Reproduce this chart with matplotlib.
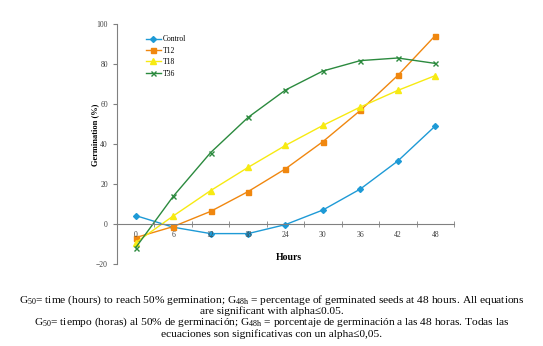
import matplotlib
matplotlib.use("Agg")
import matplotlib.pyplot as plt

hours = [0, 6, 12, 18, 24, 30, 36, 42, 48]
control = [4.2, -1.6, -4.8, -4.8, -0.3, 7.0, 17.5, 31.5, 49.0]
t12 = [-6.8, -1.3, 6.3, 16.2, 27.6, 41.2, 56.8, 74.3, 94.2]
t18 = [-9.3, 4.0, 16.7, 28.3, 39.3, 49.3, 58.5, 66.8, 74.2]
t36 = [-11.8, 13.8, 35.7, 53.3, 67.0, 76.5, 81.7, 83.0, 80.3]

series = [
    ("Control", control, "#1e9ad6", "D", 3.0),
    ("T12", t12, "#f0870f", "s", 3.6),
    ("T18", t18, "#f7ea12", "^", 4.0),
    ("T36", t36, "#2b8a3e", "x", 3.6),
]

fig = plt.figure(figsize=(5.43, 3.46), dpi=100)
ax = fig.add_axes([0.2155, 0.237, 0.6205, 0.6936])

for name, vals, col, mk, ms in series:
    ax.plot(hours, vals, color=col, marker=mk, markersize=ms, linewidth=1.0,
            markeredgewidth=1.0, label=name, zorder=2)

ax.set_xlim(-3, 51)
ax.set_ylim(-20, 100)
ax.set_yticks(range(-20, 101, 20))
ax.set_xticks(hours)
ax.set_xticks(range(-3, 52, 6), minor=True)
ax.set_axisbelow(False)

ax.spines["top"].set_visible(False)
ax.spines["right"].set_visible(False)
ax.spines["left"].set_color("#808080")
ax.spines["bottom"].set_color("#808080")
ax.spines["bottom"].set_position(("data", 0))

ax.tick_params(axis="y", direction="out", length=3, color="#808080",
               labelsize=5.5, labelcolor="#404040")
ax.tick_params(axis="x", which="major", length=0, labelsize=5.5,
               labelcolor="#404040", pad=5)
ax.tick_params(axis="x", which="minor", direction="inout", length=5,
               color="#808080")
for lab in ax.get_xticklabels() + ax.get_yticklabels():
    lab.set_family("Liberation Serif")

ax.set_ylabel("Germination (%)", fontsize=6, fontweight="bold",
              family="Liberation Serif")
ax.yaxis.set_label_coords(-0.052, 0.54)
ax.set_xlabel("Hours", fontsize=7, fontweight="bold", family="Liberation Serif")
ax.xaxis.set_label_coords(0.51, 0.045)

leg = ax.legend(loc="upper left", bbox_to_anchor=(0.065, 0.982), frameon=False,
                prop={"family": "Liberation Serif", "size": 5.5},
                handlelength=2.0, handletextpad=0.2, labelspacing=0.45)

cap1 = ("G$\\mathregular{_{50}}$= time (hours) to reach 50% germination; "
        "G$\\mathregular{_{48h}}$ = percentage of germinated seeds at 48 hours. "
        "All equations\nare significant with alpha\u22640.05.")
cap2 = ("G$\\mathregular{_{50}}$= tiempo (horas) al 50% de germinaci\u00f3n; "
        "G$\\mathregular{_{48h}}$ = porcentaje de germinaci\u00f3n a las 48 horas. "
        "Todas las\necuaciones son significativas con un alpha\u22640,05.")
fig.text(0.5, 0.12, cap1, ha="center", va="center", fontsize=8.2,
         family="Liberation Serif", linespacing=0.95)
fig.text(0.5, 0.054, cap2, ha="center", va="center", fontsize=8.2,
         family="Liberation Serif", linespacing=0.95)

fig.savefig("out.png", dpi=100)
